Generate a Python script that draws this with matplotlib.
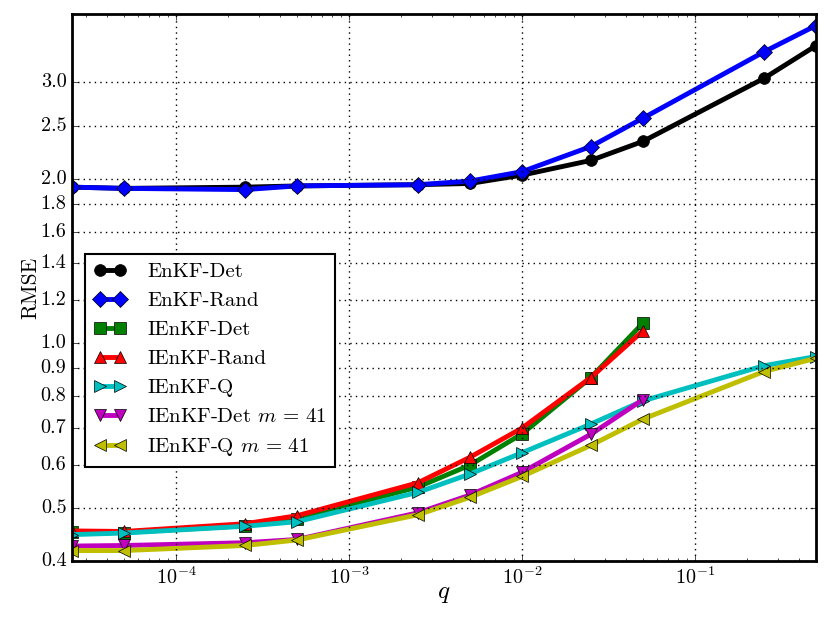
import matplotlib
matplotlib.use('Agg')
import matplotlib.pyplot as plt
from matplotlib.ticker import FixedLocator, FixedFormatter, NullLocator

plt.style.use('classic')
plt.rcParams['font.family'] = 'serif'
plt.rcParams['font.serif'] = ['cmr10']
plt.rcParams['mathtext.fontset'] = 'cm'
plt.rcParams['axes.formatter.use_mathtext'] = True

# noise level q
q = [2.5e-5, 5e-5, 2.5e-4, 5e-4, 2.5e-3, 5e-3, 1e-2, 2.5e-2, 5e-2, 0.25, 0.5]
q_short = q[:9]

enkf_det = [1.93, 1.92, 1.93, 1.94, 1.95, 1.96, 2.03, 2.16, 2.34, 3.05, 3.50]
enkf_rand = [1.93, 1.92, 1.91, 1.94, 1.95, 1.98, 2.06, 2.29, 2.58, 3.41, 3.81]
ienkf_det = [0.452, 0.451, 0.464, 0.478, 0.546, 0.599, 0.683, 0.866, 1.089]
ienkf_rand = [0.454, 0.453, 0.468, 0.484, 0.556, 0.619, 0.700, 0.866, 1.054]
ienkf_q = [0.447, 0.450, 0.463, 0.472, 0.534, 0.577, 0.631, 0.712, 0.785, 0.910, 0.946]
ienkf_det_m41 = [0.426, 0.427, 0.432, 0.438, 0.490, 0.528, 0.581, 0.682, 0.789]
ienkf_q_m41 = [0.418, 0.418, 0.427, 0.437, 0.486, 0.523, 0.571, 0.651, 0.727, 0.888, 0.939]

yticks = [0.4, 0.5, 0.6, 0.7, 0.8, 0.9, 1.0, 1.2, 1.4, 1.6, 1.8, 2.0, 2.5, 3.0]

fig = plt.figure(figsize=(8.3, 6.23), dpi=100, facecolor='white')
ax = fig.add_axes([0.0867, 0.0995, 0.8963, 0.878])

lw = 3.5
ms = 8.5
ax.plot(q, enkf_det, 'k-o', lw=lw, ms=ms, label='EnKF-Det')
ax.plot(q, enkf_rand, 'b-D', lw=lw, ms=ms, label='EnKF-Rand')
ax.plot(q_short, ienkf_det, 'g-s', lw=lw, ms=ms, label='IEnKF-Det')
ax.plot(q_short, ienkf_rand, 'r-^', lw=lw, ms=ms, label='IEnKF-Rand')
ax.plot(q, ienkf_q, 'c->', lw=lw, ms=ms, label='IEnKF-Q')
ax.plot(q_short, ienkf_det_m41, 'm-v', lw=lw, ms=ms, label='IEnKF-Det $m\\,=\\,41$')
ax.plot(q, ienkf_q_m41, 'y-<', lw=lw, ms=ms, label='IEnKF-Q $m\\,=\\,41$')

ax.set_xscale('log')
ax.set_yscale('log')
ax.set_xlim(2.5e-5, 0.5)
ax.set_ylim(0.4, 4.0)
ax.yaxis.set_major_locator(FixedLocator(yticks))
ax.yaxis.set_major_formatter(FixedFormatter(['%.1f' % v for v in yticks]))
ax.yaxis.set_minor_locator(NullLocator())
ax.tick_params(labelsize=14.5)
ax.grid(True, which='major', color='k', linestyle=':', linewidth=1)
for s in ax.spines.values():
    s.set_linewidth(2)

ax.set_xlabel('$q$', fontsize=18, labelpad=-4)
ax.set_ylabel('RMSE', fontsize=15.5, labelpad=0)

leg = ax.legend(loc='upper left', bbox_to_anchor=(0.0175, 0.561), fontsize=15,
                numpoints=2, handlelength=1.6, handletextpad=1.0,
                fancybox=False, borderaxespad=0)
leg.get_frame().set_edgecolor('k')
leg.get_frame().set_linewidth(1.5)

fig.savefig('out.png', dpi=100, facecolor='white')
